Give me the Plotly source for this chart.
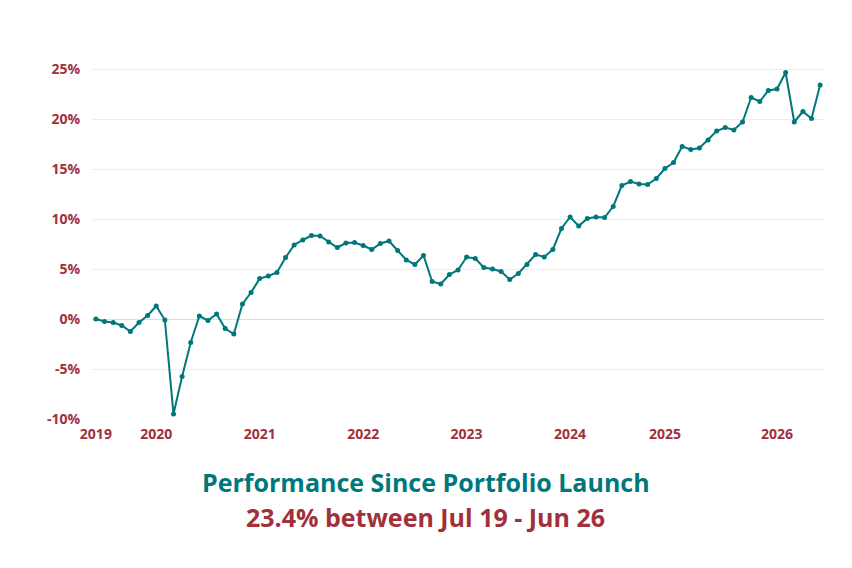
import plotly.graph_objects as go

# monthly cumulative performance (%), Jun 2019 launch to Jun 2026
perf = [
    0.0, -0.25, -0.35, -0.65, -1.25, -0.35, 0.35, 1.3, -0.1, -9.5,
    -5.75, -2.35, 0.3, -0.15, 0.5, -0.95, -1.5, 1.5, 2.65, 4.05,
    4.3, 4.65, 6.15, 7.4, 7.9, 8.35, 8.3, 7.7, 7.15, 7.6,
    7.65, 7.35, 6.95, 7.55, 7.8, 6.85, 5.9, 5.45, 6.35, 3.75,
    3.5, 4.45, 4.9, 6.2, 6.05, 5.15, 5.0, 4.75, 3.95, 4.55,
    5.45, 6.45, 6.2, 6.95, 9.05, 10.2, 9.3, 10.05, 10.2, 10.15,
    11.25, 13.35, 13.75, 13.5, 13.45, 14.05, 15.05, 15.65, 17.25, 16.95,
    17.1, 17.9, 18.8, 19.15, 18.9, 19.7, 22.15, 21.75, 22.85, 23.0,
    24.65, 19.7, 20.75, 20.05, 23.4,
]
months = list(range(len(perf)))

year_pos = [0, 7, 19, 31, 43, 55, 66, 79]
year_labels = ["2019", "2020", "2021", "2022", "2023", "2024", "2025", "2026"]

y_vals = [-10, -5, 0, 5, 10, 15, 20, 25]
y_labels = ["-10%", "-5%", "0%", "5%", "10%", "15%", "20%", "25%"]

teal = "#00777b"
red = "#a1303b"

fig = go.Figure()
fig.add_trace(go.Scatter(
    x=months, y=perf,
    mode="lines+markers",
    line=dict(color=teal, width=2),
    marker=dict(color=teal, size=5),
    hoverinfo="y",
))

fig.update_xaxes(
    range=[-0.45, len(perf) - 1 + 0.45],
    tickvals=year_pos, ticktext=year_labels,
    showgrid=False, zeroline=False, showline=False,
    ticks="outside", ticklen=2, tickcolor="white",
    tickfont=dict(family="Open Sans", size=14, color=red, weight="bold"),
)
fig.update_yaxes(
    range=[-10, 26],
    tickvals=y_vals, ticktext=y_labels,
    gridcolor="#f5e9eb", gridwidth=1,
    zeroline=True, zerolinecolor="#ecd7da", zerolinewidth=1,
    ticks="outside", ticklen=8, tickcolor="white",
    tickfont=dict(family="Open Sans", size=14, color=red, weight="bold"),
)

fig.add_annotation(
    text="Performance Since Portfolio Launch",
    xref="paper", yref="paper", x=0.456, y=-0.175,
    showarrow=False, yanchor="middle",
    font=dict(family="Open Sans", size=25, color="#00787b", weight="bold"),
)
fig.add_annotation(
    text="23.4% between Jul 19 - Jun 26",
    xref="paper", yref="paper", x=0.456, y=-0.272,
    showarrow=False, yanchor="middle",
    font=dict(family="Open Sans", size=25, color=red, weight="bold"),
)

fig.update_layout(
    width=852, height=568,
    margin=dict(l=84, r=36, t=51, b=157),
    plot_bgcolor="white", paper_bgcolor="white",
    showlegend=False,
)

fig.write_html("out.html")
